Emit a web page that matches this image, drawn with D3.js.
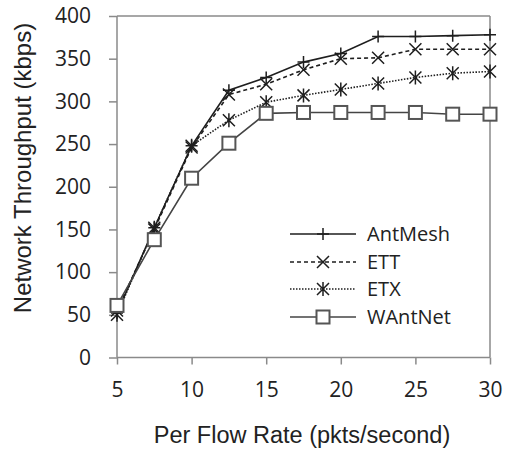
<!DOCTYPE html>
<html>
<head>
<meta charset="utf-8">
<script src="https://cdn.jsdelivr.net/npm/d3@7"></script>
<style>
  html, body { margin: 0; padding: 0; background: #fff; }
  svg { display: block; }
  text { font-family: "Open Sans", "Liberation Sans", sans-serif; fill: #222; }
  .title { font-family: "Liberation Sans", Arial, sans-serif; }
</style>
</head>
<body>
<svg id="chart" width="505" height="451"></svg>
<script>
// Per-flow packet rate (pkts/second)
const rates = [5, 7.5, 10, 12.5, 15, 17.5, 20, 22.5, 25, 27.5, 30];

// Network throughput (kbps) for each routing protocol
const antMesh = [52, 152, 248, 313, 328, 346, 356, 376, 376, 377, 378];
const ett     = [55, 150, 246, 308, 320, 337, 350, 351, 361, 361, 361];
const etx     = [50, 152, 248, 278, 299, 307, 314, 321, 328, 333, 335];
const wAntNet = [61, 138, 210, 251, 286, 287, 287, 287, 287, 285, 285];

const xTicks = [5, 10, 15, 20, 25, 30];
const yTicks = [0, 50, 100, 150, 200, 250, 300, 350, 400];

const series = [
  { name: "AntMesh", values: antMesh, dash: null,    marker: "plus" },
  { name: "ETT",     values: ett,     dash: "4,3",   marker: "cross" },
  { name: "ETX",     values: etx,     dash: "1.5,1.5", marker: "star" },
  { name: "WAntNet", values: wAntNet, dash: null,    marker: "square" }
];

const svg = d3.select("#chart");
const m = { left: 117, right: 490, top: 16, bottom: 357.5 };

const x = d3.scaleLinear().domain([5, 30]).range([m.left, m.right]);
const y = d3.scaleLinear().domain([0, 400]).range([m.bottom, m.top]);

const axisColor = "#8a8a8a";
const lineColor = "#1e1e1e";

// Frame: top and right borders
svg.append("line").attr("x1", m.left).attr("x2", m.right).attr("y1", m.top).attr("y2", m.top)
  .attr("stroke", axisColor).attr("stroke-width", 1.5);
svg.append("line").attr("x1", m.right).attr("x2", m.right).attr("y1", m.top).attr("y2", m.bottom)
  .attr("stroke", axisColor).attr("stroke-width", 1.5);

// Axes
const xAxis = svg.append("g").attr("transform", `translate(0,${m.bottom})`)
  .call(d3.axisBottom(x).tickValues(xTicks).tickSize(7).tickPadding(18).tickFormat(d3.format("d")));
const yAxis = svg.append("g").attr("transform", `translate(${m.left},0)`)
  .call(d3.axisLeft(y).tickValues(yTicks).tickSize(8).tickPadding(18).tickFormat(d3.format("d")));

[xAxis, yAxis].forEach(g => {
  g.selectAll("path, line").attr("stroke", axisColor).attr("stroke-width", 1.5);
  g.selectAll("text").style("font-size", "21px").style("fill", "#222");
});
xAxis.select(".domain").attr("d", `M${m.left},0H${m.right}`);
yAxis.select(".domain").attr("d", `M0,${m.top}V${m.bottom}`);

// Axis titles
svg.append("text")
  .attr("class", "title")
  .attr("transform", "translate(31,168) rotate(-90)")
  .attr("text-anchor", "middle")
  .style("font-size", "24px")
  .text("Network Throughput (kbps)");
svg.append("text")
  .attr("class", "title")
  .attr("x", 302).attr("y", 443)
  .attr("text-anchor", "middle")
  .style("font-size", "23.5px")
  .text("Per Flow Rate (pkts/second)");

// Marker drawing
function drawMarker(g, type, cx, cy) {
  const s = g.append("g").attr("transform", `translate(${cx},${cy})`)
    .attr("stroke", lineColor).attr("stroke-width", 1.5).attr("fill", "none");
  if (type === "plus") {
    s.append("path").attr("d", "M-6,0H6M0,-6V6");
  } else if (type === "cross") {
    s.append("path").attr("d", "M-6,-6L6,6M-6,6L6,-6");
  } else if (type === "star") {
    s.append("path").attr("d", "M-6,-6L6,6M-6,6L6,-6M0,-7V7");
  } else if (type === "square") {
    s.append("rect").attr("x", -6.5).attr("y", -6.5).attr("width", 13).attr("height", 13)
      .attr("fill", "#fff").attr("stroke", "#555").attr("stroke-width", 2);
  }
}

const line = d3.line().x((d, i) => x(rates[i])).y(d => y(d));

const plot = svg.append("g");
series.forEach(s => {
  plot.append("path")
    .datum(s.values)
    .attr("d", line)
    .attr("fill", "none")
    .attr("stroke", s.marker === "square" ? "#444" : lineColor)
    .attr("stroke-width", 1.6)
    .attr("stroke-dasharray", s.dash);
  s.values.forEach((v, i) => drawMarker(plot, s.marker, x(rates[i]), y(v)));
});

// Legend
const legend = svg.append("g");
const legendRows = [234, 262, 289, 317];
series.forEach((s, i) => {
  const ly = legendRows[i];
  legend.append("line")
    .attr("x1", 290).attr("x2", 356).attr("y1", ly).attr("y2", ly)
    .attr("stroke", s.marker === "square" ? "#444" : lineColor)
    .attr("stroke-width", 1.6)
    .attr("stroke-dasharray", s.dash);
  drawMarker(legend, s.marker, 323, ly);
  legend.append("text")
    .attr("x", 367).attr("y", ly + 7)
    .style("font-size", "20px")
    .text(s.name);
});
</script>
</body>
</html>
